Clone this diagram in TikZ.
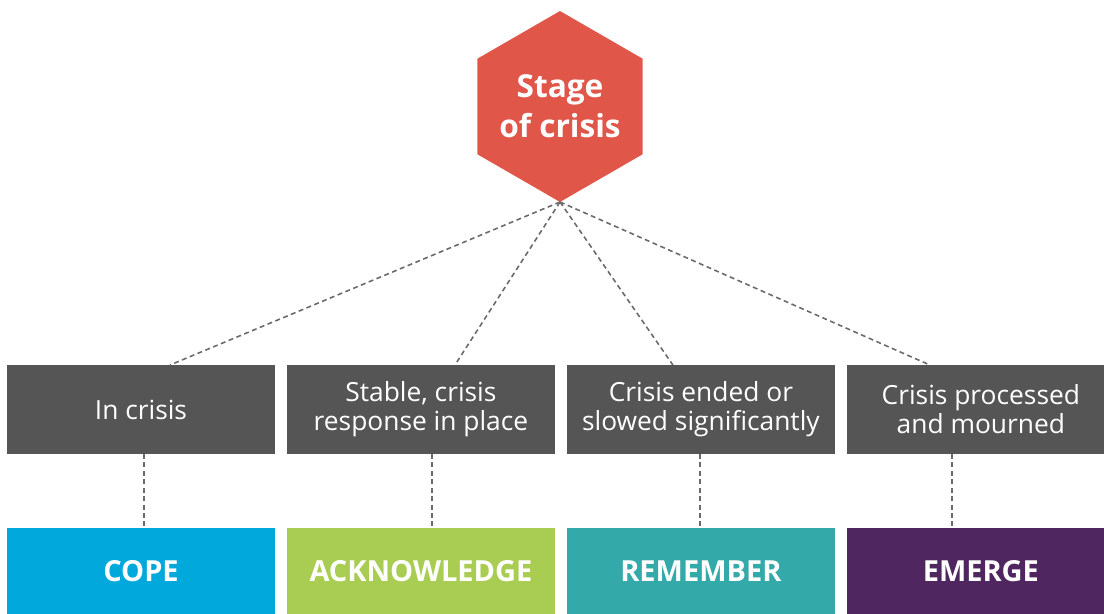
\documentclass[tikz,border=0pt]{standalone}
\usepackage{fontspec}
\setmainfont{Open Sans}
\usetikzlibrary{shapes.geometric}
\usetikzlibrary{positioning}
\usetikzlibrary{calc}

\definecolor{hexred}{HTML}{E0574A}
\definecolor{boxgray}{HTML}{555555}
\definecolor{linkgray}{HTML}{6A6A6A}
\definecolor{copeblue}{HTML}{00A8DB}
\definecolor{ackgreen}{HTML}{A8CD52}
\definecolor{remteal}{HTML}{34A9A9}
\definecolor{emgpurple}{HTML}{4F2660}

\begin{document}
\begin{tikzpicture}[
  x=0.02cm, y=-0.02cm,
  hexa/.style = {regular polygon, regular polygon sides=6, shape border rotate=30,
    fill=hexred, minimum size=3.82cm, inner sep=0pt, outer sep=0pt},
  hexatext/.style = {text=white, align=center, inner sep=0pt,
    font=\fontsize{18}{22.7}\selectfont\bfseries},
  phase/.style = {fill=boxgray, text=white, minimum width=5.36cm, minimum height=1.78cm,
    inner sep=0pt, outer sep=0pt, align=center, font=\fontsize{15}{16.5}\selectfont},
  task/.style = {text=white, minimum width=5.36cm, minimum height=1.74cm,
    inner sep=0pt, outer sep=0pt, font=\fontsize{16.5}{18}\selectfont\bfseries},
  link/.style = {draw=linkgray, line width=0.9pt, dash pattern=on 2.8pt off 2pt}
  ]
	\useasboundingbox (0,0) rectangle (1104,614);
	\clip (0,0) rectangle (1104,614);

	\node[hexa, label={[hexatext]center:Stage\\of crisis}] (stage) at (560,106.5) {};

	\node[phase] (in) at (141,409.5) {In crisis};
	\node[phase, right=0.24cm of in] (stable) {Stable, crisis\\response in place};
	\node[phase, right=0.24cm of stable] (ended) {Crisis ended or\\slowed significantly};
	\node[phase, right=0.24cm of ended] (processed) {Crisis processed\\and mourned};

	\node[task, fill=copeblue] (cope) at (141,571.5) {COPE};
	\node[task, fill=ackgreen, right=0.24cm of cope] (ack) {ACKNOWLEDGE};
	\node[task, fill=remteal, right=0.24cm of ack] (rem) {REMEMBER};
	\node[task, fill=emgpurple, right=0.24cm of rem] (emg) {EMERGE};

	% stage down to the phases
	\draw[link] (stage.south) -- ($(in.north)+(29,0)$);
	\draw[link] (stage.south) -- ($(stable.north)+(34,0)$);
	\draw[link] (stage.south) -- ($(ended.north)+(-28,0)$);
	\draw[link] (stage.south) -- ($(processed.north)+(-51,0)$);

	% phases down to the tasks
	\draw[link] ($(in.south)+(3,0)$) -- ($(cope.north)+(3,0)$);
	\draw[link] ($(stable.south)+(11,0)$) -- ($(ack.north)+(11,0)$);
	\draw[link] ($(ended.south)+(-1,0)$) -- ($(rem.north)+(-1,0)$);
	\draw[link] ($(processed.south)+(-29,0)$) -- ($(emg.north)+(-29,0)$);
\end{tikzpicture}
\end{document}
